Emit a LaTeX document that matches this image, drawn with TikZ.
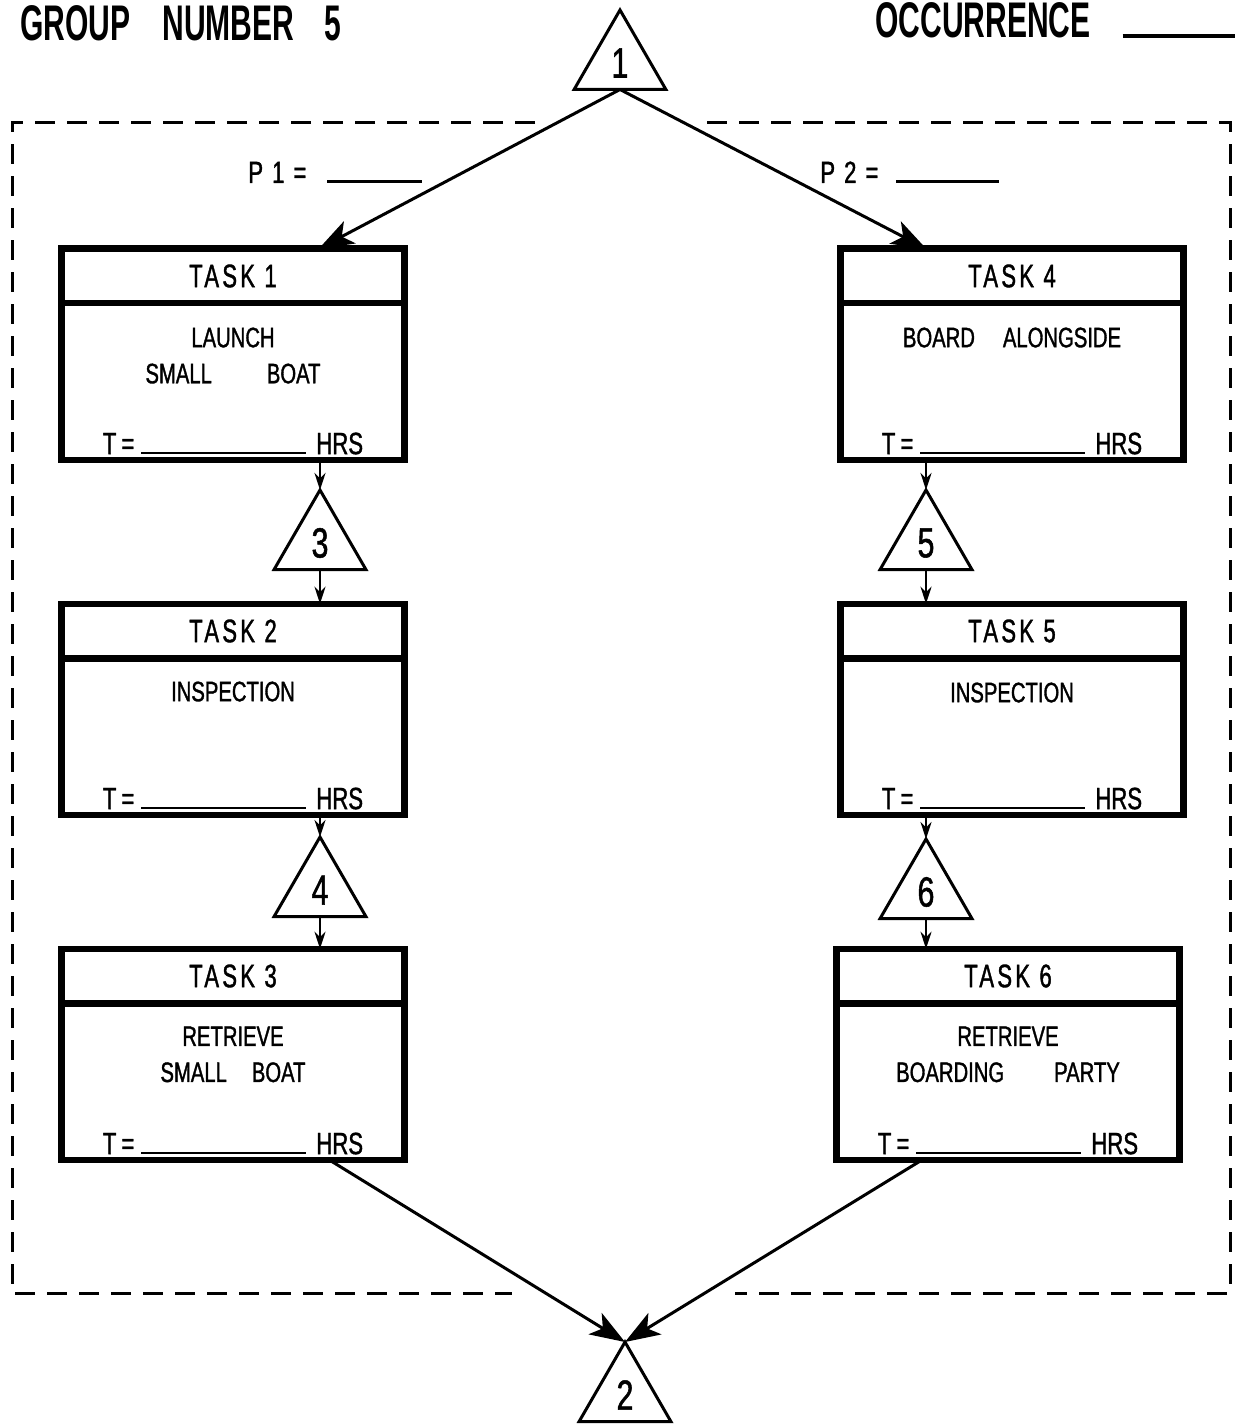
\documentclass[tikz,border=0pt]{standalone}
\usepackage{fontspec}
\setmainfont{Liberation Sans}[FakeStretch=0.72, FakeBold=1.2]
\newfontfamily\headfont{Liberation Sans}[FakeStretch=0.6]
\newfontfamily\titlefont{Liberation Sans}[FakeStretch=0.68, LetterSpace=10, FakeBold=1.2]
\usetikzlibrary{positioning, calc, shapes.geometric}
\usetikzlibrary{arrows.meta}
\tikzset{>={Stealth[length=7mm,width=5mm,inset=1.8mm]}}

\begin{document}
\begin{tikzpicture}[
    x = 0.2mm, y = -0.2mm,
    node distance = 0mm,
    head/.style = {draw, line width=1.3mm, minimum width=68.6mm,
        minimum height=10.9mm, inner sep=0pt, outer sep=0pt,
        font=\titlefont\fontsize{18.5}{18.5}\selectfont},
    body/.style = {draw, line width=1.3mm, minimum width=68.6mm,
        minimum height=31.3mm, inner sep=0pt, outer sep=0pt},
    txt/.style = {inner sep=0pt, align=center,
        font=\fontsize{16}{20.5}\selectfont},
    tline/.style = {inner sep=0pt, font=\fontsize{17.5}{17.5}\selectfont},
    tri/.style = {draw, line width=0.6mm, regular polygon,
        regular polygon sides=3, minimum size=21.2mm, inner sep=0pt,
        outer sep=0pt, font=\fontsize{24}{24}\selectfont},
    frame/.style = {line width=0.6mm, dash pattern=on 4mm off 2.4mm},
    arrow/.style = {->, line width=0.6mm},
    sarrow/.style = {-{Stealth[length=3.4mm,width=2.2mm]}, line width=0.5mm}
  ]
  \useasboundingbox (0,0) rectangle (1238,1424);

  % heading
  \node[anchor=base west, inner sep=0pt, font=\headfont\bfseries\fontsize{28.5}{28.5}\selectfont]
    (grp) at (20,41) {GROUP\hspace{6.4mm}NUMBER\hspace{6mm}5};
  \node[anchor=base west, inner sep=0pt, font=\headfont\bfseries\fontsize{28.5}{28.5}\selectfont]
    (occ) at (875,38) {OCCURRENCE\hspace{6.4mm}\rule{22.4mm}{0.8mm}};

  % dashed frame
  \draw[frame] (535,123) -- (12,123) -- (12,1293) -- (512,1293);
  \draw[frame] (707,123) -- (1230,123) -- (1230,1293) -- (735,1293);

  % tasks
  \foreach \n/\x/\y in {1/233/276, 2/233/631, 3/233/976, 4/1012/276, 5/1012/631, 6/1008/976}
  {
    \node[head] (h\n) at (\x,\y) {TASK\ \n};
    \node[body, below=of h\n] (b\n) {};
    \node[tline, above=1mm of b\n.south] (r\n)
      {T\hspace{1mm}=\hspace{1.4mm}\rule{33mm}{0.5mm}\hspace{2mm}HRS};
  }

  \node[txt, below=4.8mm of h1] (d1) {LAUNCH\\SMALL\hspace{11mm}BOAT};
  \node[txt, below=4.6mm of h2] (d2) {INSPECTION};
  \node[txt, below=4.6mm of h3] (d3) {RETRIEVE\\SMALL\hspace{5mm}BOAT};
  \node[txt, below=4.8mm of h4] (d4) {BOARD\hspace{5.6mm}ALONGSIDE};
  \node[txt, below=4.8mm of h5] (d5) {INSPECTION};
  \node[txt, below=4.6mm of h6] (d6) {RETRIEVE\\BOARDING\hspace{10mm}PARTY};

  % probabilities
  \node[tline, anchor=base west] (p1) at (248,183)
    {P\hspace{1.8mm}1\hspace{1.8mm}=\hspace{4.2mm}\rule{19mm}{0.5mm}};
  \node[tline, anchor=base west] (p2) at (820,183)
    {P\hspace{1.8mm}2\hspace{1.8mm}=\hspace{3.6mm}\rule{20.6mm}{0.5mm}};

  % decision triangles
  \node[tri] (t1) at (620,63) {1};
  \node[tri] (t3) at (320,543) {3};
  \node[tri] (t4) at (320,890) {4};
  \node[tri] (t5) at (926,543) {5};
  \node[tri] (t6) at (926,892) {6};
  \node[tri] (t2) at (625,1395) {2};

  % connectors
  \draw[arrow] (t1.side 2) -- ($(h1.north west)!0.75!(h1.north east)$);
  \draw[arrow] (t1.side 2) -- ($(h4.north west)!0.25!(h4.north east)$);
  \draw[sarrow] (b1.south -| t3.corner 1) -- (t3.corner 1);
  \draw[sarrow] (t3.side 2) -- (t3.side 2 |- h2.north);
  \draw[sarrow] (b2.south -| t4.corner 1) -- (t4.corner 1);
  \draw[sarrow] (t4.side 2) -- (t4.side 2 |- h3.north);
  \draw[sarrow] (b4.south -| t5.corner 1) -- (t5.corner 1);
  \draw[sarrow] (t5.side 2) -- (t5.side 2 |- h5.north);
  \draw[sarrow] (b5.south -| t6.corner 1) -- (t6.corner 1);
  \draw[sarrow] (t6.side 2) -- (t6.side 2 |- h6.north);
  \draw[arrow] ($(b3.south west)!0.78!(b3.south east)$) -- (t2.corner 1);
  \draw[arrow] ($(b6.south west)!0.25!(b6.south east)$) -- (t2.corner 1);
\end{tikzpicture}
\end{document}
